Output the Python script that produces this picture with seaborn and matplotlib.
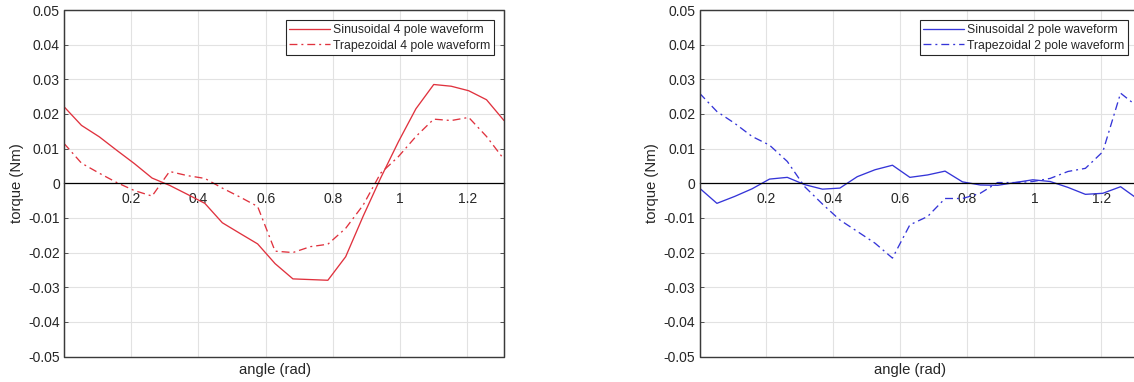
import numpy as np
import pandas as pd
import seaborn as sns
import matplotlib.pyplot as plt
from matplotlib.patches import Rectangle
from matplotlib.ticker import FixedLocator, FuncFormatter

sns.set_theme(style="white")
plt.rcParams["font.family"] = ["Liberation Sans", "DejaVu Sans"]

# angle samples (rad), 3 degree steps
angle = [0.000, 0.052, 0.105, 0.157, 0.209, 0.262, 0.314, 0.367, 0.419,
         0.471, 0.524, 0.576, 0.628, 0.681, 0.733, 0.785, 0.838, 0.890,
         0.942, 0.995, 1.047, 1.100, 1.152, 1.204, 1.257, 1.309]

# torque (Nm)
sin_4pole = [0.0221, 0.0167, 0.0134, 0.0095, 0.0057, 0.0015, -0.0006, -0.0032,
             -0.0058, -0.0114, -0.0145, -0.0175, -0.0232, -0.0276, -0.0278,
             -0.0280, -0.0212, -0.0095, 0.0015, 0.0120, 0.0215, 0.0285,
             0.0280, 0.0267, 0.0241, 0.0181]
trap_4pole = [0.0115, 0.0058, 0.0029, 0.0002, -0.0021, -0.0037, 0.0034,
              0.0022, 0.0014, -0.0014, -0.0040, -0.0067, -0.0196, -0.0200,
              -0.0183, -0.0176, -0.0130, -0.0063, 0.0029, 0.0077, 0.0135,
              0.0185, 0.0181, 0.0190, 0.0135, 0.0069]
sin_2pole = [-0.0014, -0.0058, -0.0038, -0.0016, 0.0012, 0.0017, -0.0004,
             -0.0017, -0.0014, 0.0019, 0.0039, 0.0052, 0.0017, 0.0024, 0.0035,
             0.0004, -0.0005, -0.0006, 0.0002, 0.0010, 0.0005, -0.0012,
             -0.0032, -0.0029, -0.0010, -0.0046]
trap_2pole = [0.0260, 0.0207, 0.0173, 0.0135, 0.0110, 0.0063, -0.0010,
              -0.0060, -0.0106, -0.0139, -0.0173, -0.0216, -0.0120, -0.0096,
              -0.0044, -0.0044, -0.0029, 0.0002, 0.0002, 0.0005, 0.0014,
              0.0034, 0.0043, 0.0091, 0.0260, 0.0220]

x_ticks = [0.2, 0.4, 0.6, 0.8, 1.0, 1.2]
y_ticks = [-0.05, -0.04, -0.03, -0.02, -0.01, 0, 0.01, 0.02, 0.03, 0.04, 0.05]

panels = [
    ("#e0323e", "Sinusoidal 4 pole waveform", sin_4pole,
     "Trapezoidal 4 pole waveform", trap_4pole),
    ("#3535d8", "Sinusoidal 2 pole waveform", sin_2pole,
     "Trapezoidal 2 pole waveform", trap_2pole),
]

W, H = 1134, 382
fig = plt.figure(figsize=(W / 100, H / 100), dpi=100)
ax_boxes = [
    [64 / W, 25.5 / H, 440 / W, 346.5 / H],
    [699.5 / W, 25.5 / H, 438.5 / W, 346.5 / H],
]

dashdot = (6, 3, 1.5, 3)
frame_col = "#3a3a3a"
text_col = "#262626"

for box, (color, lab_s, vals_s, lab_t, vals_t) in zip(ax_boxes, panels):
    ax = fig.add_axes(box)
    df = pd.DataFrame({"angle": angle, "sin": vals_s, "trap": vals_t})

    sns.lineplot(data=df, x="angle", y="sin", ax=ax, color=color, lw=0.95,
                 label=lab_s, sort=False)
    sns.lineplot(data=df, x="angle", y="trap", ax=ax, color=color, lw=0.95,
                 label=lab_t, sort=False, dashes=False)
    ax.lines[-1].set_dashes(dashdot)

    ax.set_xlim(0, 1.309)
    ax.set_ylim(-0.05, 0.05)
    ax.xaxis.set_major_locator(FixedLocator(x_ticks))
    ax.yaxis.set_major_locator(FixedLocator(y_ticks))
    ax.xaxis.set_major_formatter(FuncFormatter(lambda v, p: f"{round(v, 2):g}"))
    ax.yaxis.set_major_formatter(FuncFormatter(lambda v, p: f"{round(v, 2):g}"))

    ax.grid(True, color="#e2e2e2", lw=0.8)
    ax.set_axisbelow(True)

    # x axis through the origin, box around the plot
    ax.spines["bottom"].set_position(("data", 0))
    ax.spines["bottom"].set_color("black")
    ax.spines["bottom"].set_linewidth(0.9)
    for side in ["left", "right", "top"]:
        ax.spines[side].set_color(frame_col)
        ax.spines[side].set_linewidth(0.8)
    ax.spines["top"].set_color("#8a8a8a")
    ax.add_patch(Rectangle((0, 0), 1, 1, transform=ax.transAxes, fill=False,
                           ec=frame_col, lw=1.0, clip_on=False, zorder=5))

    ax.yaxis.set_ticks_position("both")
    ax.tick_params(axis="y", direction="in", length=3, width=0.6,
                   color=frame_col, labelsize=10, labelcolor=text_col, pad=3)
    ax.tick_params(axis="x", direction="in", length=3, width=0.6,
                   color="black", labelsize=10, labelcolor=text_col, pad=6)

    ax.set_xlabel("angle (rad)", fontsize=10.7, color=text_col)
    ax.set_ylabel("torque (Nm)", fontsize=10.7, color=text_col)
    ax.xaxis.set_label_coords(0.48, -0.018)
    ax.yaxis.set_label_coords(-0.092, 0.5)

    leg = ax.legend(loc="upper right", fontsize=8.8, frameon=True,
                    fancybox=False, framealpha=1, edgecolor=text_col,
                    borderaxespad=0.85, borderpad=0.3, labelspacing=0.3,
                    handlelength=3.3, handletextpad=0.25)
    leg.get_frame().set_linewidth(0.8)
    for t in leg.get_texts():
        t.set_color(text_col)

fig.savefig("out.png", dpi=100)
